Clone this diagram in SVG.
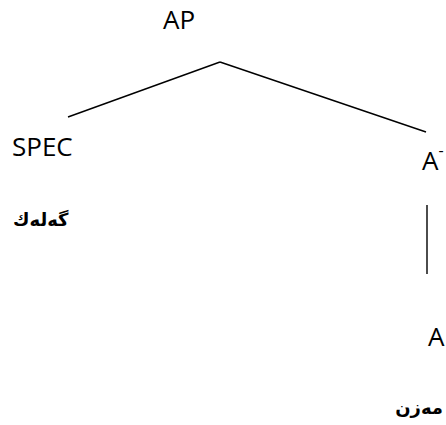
<svg xmlns="http://www.w3.org/2000/svg" width="446" height="425" viewBox="0 0 446 425">
<style>
.lbl{font-family:"Open Sans","Noto Sans","Liberation Sans",sans-serif;font-size:26px;fill:#000}
.ku{font-family:"DejaVu Sans","Noto Sans",sans-serif;font-size:18px;font-weight:bold;fill:#000}
.edge{stroke:#000;stroke-width:1.4;fill:none}
</style>
<rect width="446" height="425" fill="#fff"/>
<g id="connectors">
<line class="edge" x1="68" y1="117" x2="220" y2="62"/>
<line class="edge" x1="220" y1="62" x2="426" y2="132"/>
<line class="edge" x1="427" y1="205" x2="427" y2="274"/>
</g>
<g id="node-AP"><text class="lbl" x="163" y="29">AP</text></g>
<g id="node-SPEC"><text class="lbl" x="12" y="156">SPEC</text></g>
<g id="node-Abar"><text class="lbl" x="422" y="170">A<tspan font-size="16" dy="-14">-</tspan></text></g>
<g id="node-gelek"><text class="ku" x="13" y="226">گەلەك</text></g>
<g id="node-A"><text class="lbl" x="428" y="346">A</text></g>
<g id="node-mezin"><text class="ku" x="443" y="414" text-anchor="end">مەزن</text></g>
</svg>
